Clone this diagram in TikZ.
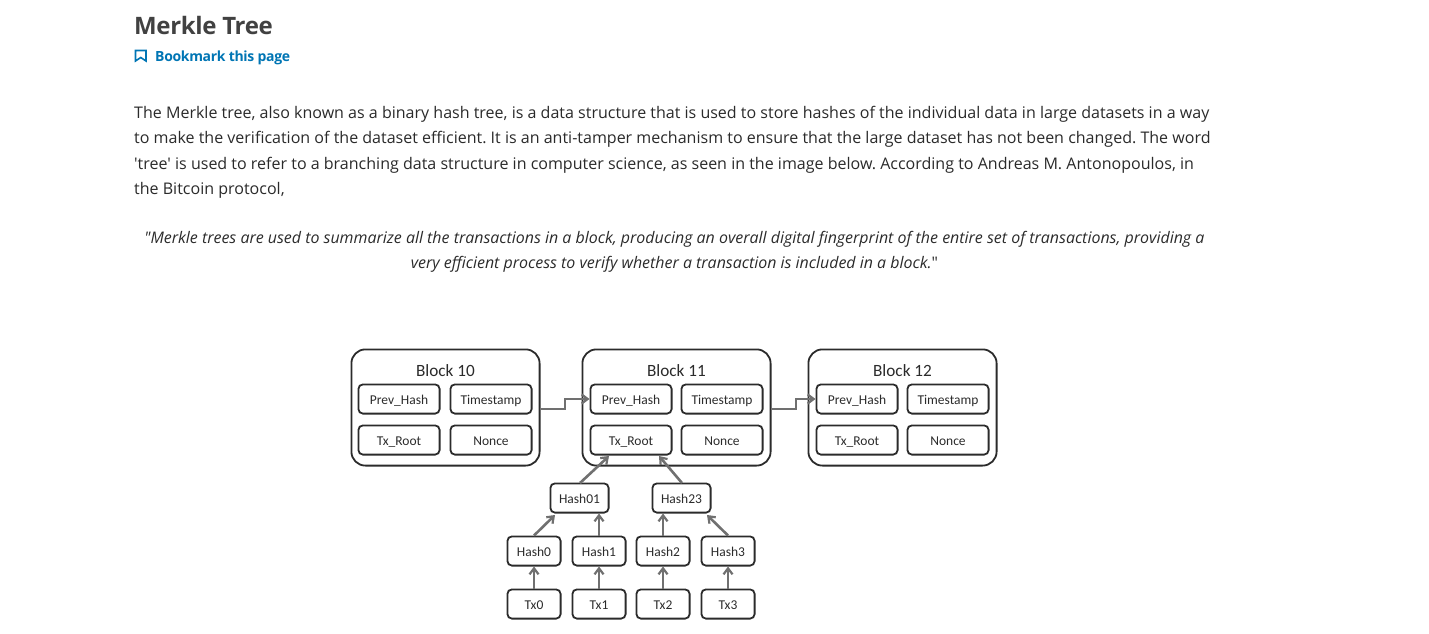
\documentclass[tikz,border=0pt]{standalone}
\usepackage{fontspec}
\setmainfont{Open Sans}[Ligatures=TeXOff]
\newfontfamily\diagfont{Carlito}
\newfontfamily\titlefont{Open Sans Bold}[LetterSpace=-1.5]
\newfontfamily\linkfont{Open Sans Bold}[LetterSpace=-2.4]
\usetikzlibrary{arrows.meta}
\definecolor{bodytxt}{HTML}{2A2A2A}
\definecolor{headtxt}{HTML}{414141}
\definecolor{linktxt}{HTML}{0075B4}
\definecolor{boxline}{HTML}{2B2B2B}
\definecolor{arrowline}{HTML}{707070}
\newcommand{\bx}[6]{\node[#6] (#1) at ({(#2+#3)/2},{(#4+#5)/2}) [minimum width={(#3-#2-0.8)*1pt}, minimum height={(#5-#4-0.8)*1pt}] {};}
\tikzset{
 line/.style={text=bodytxt,anchor=base west,inner sep=0pt,font=\fontsize{16.03}{20}\selectfont},
 qline/.style={text=bodytxt,anchor=base,inner sep=0pt,font=\fontsize{15.95}{20}\selectfont\itshape},
 block/.style={draw=boxline,line width=1.8pt,rounded corners=14pt,inner sep=0pt},
 field/.style={draw=boxline,line width=1.8pt,rounded corners=4.5pt,inner sep=0pt},
 lab/.style={text=boxline,font=\diagfont\fontsize{13.5}{15}\selectfont,inner sep=0pt,text height=10.5pt,text depth=0pt},
 blab/.style={text=boxline,font=\diagfont\fontsize{17.2}{20}\selectfont,inner sep=0pt,text height=13pt,text depth=0pt},
 arr/.style={draw=arrowline,line width=2.6pt,-{Straight Barb[length=6pt,width=9pt,line width=2.2pt]}},
}
\begin{document}
\begin{tikzpicture}[x=1pt,y=-1pt]
\useasboundingbox (0,0) rectangle (1429,634);
\node[anchor=base west,inner sep=0pt,text=headtxt,font=\titlefont\fontsize{24}{28}\selectfont] (title) at (134,34.5) {Merkle Tree};
\draw[linktxt,line width=1.6pt,line join=miter] (135.5,50.5) -- (146,50.5) -- (146,61) -- (140.75,57.5) -- (135.5,61) -- cycle;
\node[anchor=base west,inner sep=0pt,text=linktxt,font=\linkfont\fontsize{14}{18}\selectfont] (bookmark) at (155,62) {Bookmark this page};
\node[line] (p1) at (134,118) {\frenchspacing The Merkle tree, also known as a binary hash tree, is a data structure that is used to store hashes of the individual data in large datasets in a way};
\node[line] (p2) at (134,143) {\frenchspacing to make the verification of the dataset efficient. It is an anti-tamper mechanism to ensure that the large dataset has not been changed. The word};
\node[line] (p3) at (134,169) {\frenchspacing 'tree' is used to refer to a branching data structure in computer science, as seen in the image below. According to Andreas M. Antonopoulos, in};
\node[line] (p4) at (134,194) {the Bitcoin protocol,};
\node[qline] (q1) at (674.5,243) {\frenchspacing "Merkle trees are used to summarize all the transactions in a block, producing an overall digital fingerprint of the entire set of transactions, providing a};
\node[qline] (q2) at (674.5,268) {very efficient process to verify whether a transaction is included in a block.{\upshape"}};

% blocks
\bx{b10}{351}{540}{349}{466}{block}
\bx{b11}{582}{771}{349}{466}{block}
\bx{b12}{808}{997}{349}{466}{block}
\node[blab] (t10) at (445.5,370) {Block 10};
\node[blab] (t11) at (676.5,370) {Block 11};
\node[blab] (t12) at (902.5,370) {Block 12};
% fields
\bx{p10}{358}{440}{384}{414}{field}
\bx{s10}{450}{532}{384}{414}{field}
\bx{r10}{358}{440}{425}{455}{field}
\bx{n10}{450}{532}{425}{455}{field}
\bx{p11}{590}{672}{384}{414}{field}
\bx{s11}{681}{763}{384}{414}{field}
\bx{r11}{590}{672}{425}{455}{field}
\bx{n11}{681}{763}{425}{455}{field}
\bx{p12}{816}{898}{384}{414}{field}
\bx{s12}{907}{989}{384}{414}{field}
\bx{r12}{816}{898}{425}{455}{field}
\bx{n12}{907}{989}{425}{455}{field}
\foreach \k in {10,11,12}{
 \node[lab] at (p\k) {Prev\_Hash};
 \node[lab] at (s\k) {Timestamp};
 \node[lab] at (r\k) {Tx\_Root};
 \node[lab] at (n\k) {Nonce};
}
% tree
\bx{h01}{550}{609}{483}{513}{field}
\bx{h23}{652}{711}{483}{513}{field}
\bx{h0}{507}{561}{536}{566}{field}
\bx{h1}{572}{626}{536}{566}{field}
\bx{h2}{636}{690}{536}{566}{field}
\bx{h3}{701}{755}{536}{566}{field}
\bx{t0}{507}{561}{589}{619}{field}
\bx{t1}{572}{626}{589}{619}{field}
\bx{t2}{636}{690}{589}{619}{field}
\bx{t3}{701}{755}{589}{619}{field}
\node[lab] at (h01) {Hash01};
\node[lab] at (h23) {Hash23};
\foreach \i in {0,1,2,3}{
 \node[lab] at (h\i) {Hash\i};
 \node[lab] at (t\i) {Tx\i};
}
% connectors
\coordinate (c1) at (565,409);
\coordinate (c2) at (565,399);
\coordinate (c3) at (796,409);
\coordinate (c4) at (796,399);
\coordinate (r11a) at (609,456);
\coordinate (r11b) at (659,456);
\coordinate (h01a) at (580,483);
\coordinate (h23a) at (682,483);
\coordinate (h01b) at (555,515);
\coordinate (h01c) at (707,515);
\draw[arr] (b10.east |- c1) -- (c1) -- (c2) -- (p11.west);
\draw[arr] (b11.east |- c3) -- (c3) -- (c4) -- (p12.west);
\draw[arr] (h01a) -- (r11a);
\draw[arr] (h23a) -- (r11b);
\draw[arr] (h0.north) -- (h01b);
\draw[arr] (h1.north) -- (h1.north |- h01.south);
\draw[arr] (h2.north) -- (h2.north |- h23.south);
\draw[arr] (h3.north) -- (h01c);
\foreach \i in {0,1,2,3}{\draw[arr] (t\i.north) -- (h\i.south);}
\end{tikzpicture}
\end{document}
